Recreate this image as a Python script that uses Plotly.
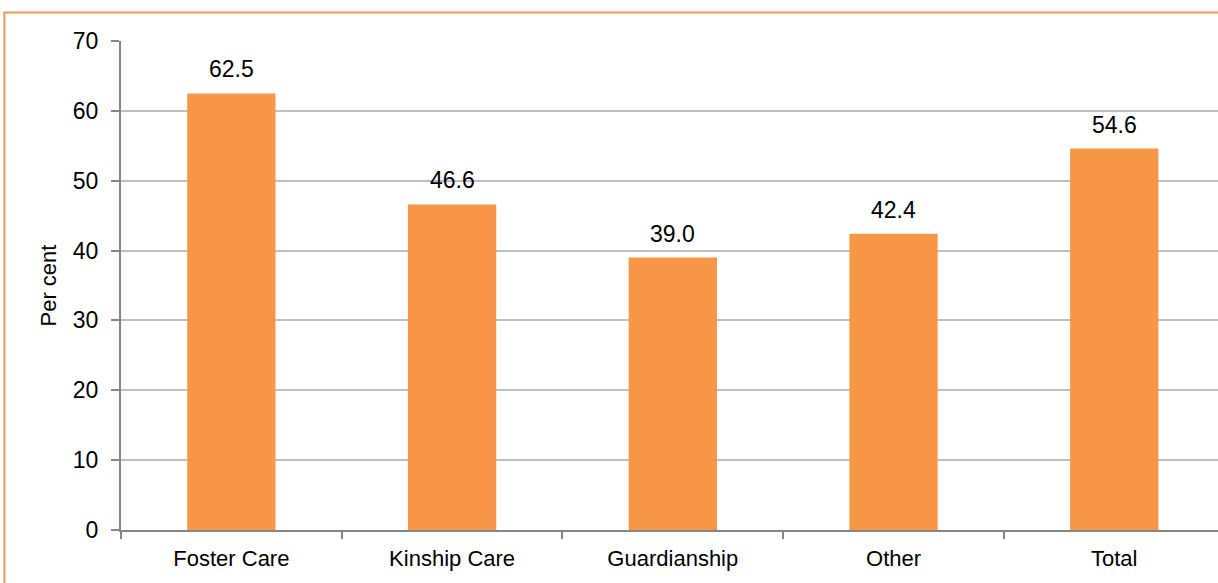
import plotly.graph_objects as go

categories = ["Foster Care", "Kinship Care", "Guardianship", "Other", "Total"]
values = [62.5, 46.6, 39.0, 42.4, 54.6]
y_ticks = [0, 10, 20, 30, 40, 50, 60, 70]

ORANGE = "#F79646"
AXIS = "#868686"
GRID = "#BFBFBF"
FONT = "Liberation Sans, Arial, sans-serif"

fig = go.Figure()
fig.add_trace(go.Bar(
    x=categories, y=values, width=0.4,
    marker=dict(color=ORANGE, line=dict(width=0)),
    hoverinfo="x+y",
))

for c, v in zip(categories, values):
    fig.add_annotation(x=c, y=v, text=f"{v:.1f}", showarrow=False,
                       yanchor="bottom", yshift=9,
                       font=dict(family=FONT, size=23, color="#000000"))

# orange outer border (partially cropped on right/bottom)
fig.add_shape(type="rect", xref="paper", yref="paper",
              x0=-0.1063, x1=1.2, y0=-0.3, y1=1.0585,
              line=dict(color=ORANGE, width=2), layer="above")

fig.update_layout(
    width=1218, height=583,
    margin=dict(l=121, r=0, t=41, b=53),
    paper_bgcolor="white", plot_bgcolor="white",
    font=dict(family=FONT, size=22, color="#000000"),
    showlegend=False,
    bargap=0.6,
)
fig.update_xaxes(
    type="category", range=[-0.5, 4.47],
    showline=True, linecolor=AXIS, linewidth=2,
    ticks="outside", tickson="boundaries", ticklen=7, tickwidth=2, tickcolor=AXIS,
    showgrid=False, tickfont=dict(family=FONT, size=22, color="#000000"),
    ticklabelstandoff=8,
)
fig.update_yaxes(
    range=[0, 70], tickvals=y_ticks, ticktext=[str(t) for t in y_ticks],
    showline=True, linecolor=AXIS, linewidth=2,
    ticks="outside", ticklen=8, tickwidth=2, tickcolor=AXIS,
    showgrid=True, gridcolor=GRID, gridwidth=1.5, zeroline=False,
    tickfont=dict(family=FONT, size=23, color="#000000"),
    ticklabelstandoff=8,
    title=dict(text="Per cent", font=dict(family=FONT, size=22, color="#000000"), standoff=10),
)

fig.write_html("out.html", config={"displayModeBar": False},
               post_script="document.body.style.margin='0';")
